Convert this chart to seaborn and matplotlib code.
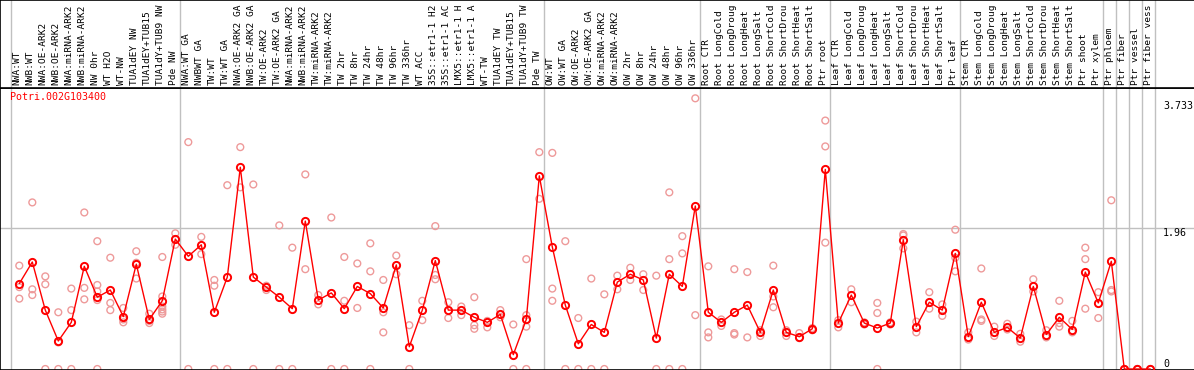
import matplotlib
matplotlib.use('Agg')
import matplotlib.pyplot as plt
import seaborn as sns
import pandas as pd

gene = "Potri.002G103400"

labels = [
    "NWA:WT", "NWB:WT", "NWA:OE-ARK2", "NWB:OE-ARK2", "NWA:miRNA-ARK2", "NWB:miRNA-ARK2",
    "NW 0hr", "WT H2O", "WT-NW", "TUA1dEY NW", "TUA1dEY+TUB15", "TUA1dY+TUB9 NW", "Pde NW",
    "NWA:WT GA", "NWBWT GA", "TW:WT", "TW:WT GA", "NWA:OE-ARK2 GA", "NWB:OE-ARK2 GA",
    "TW:OE-ARK2", "TW:OE-ARK2 GA", "NWA:miRNA-ARK2", "NWB:miRNA-ARK2", "TW:miRNA-ARK2",
    "TW:miRNA-ARK2", "TW 2hr", "TW 8hr", "TW 24hr", "TW 48hr", "TW 96hr", "TW 336hr",
    "WT ACC", "35S::etr1-1 H2", "35S::etr1-1 AC", "LMX5::etr1-1 H", "LMX5::etr1-1 A",
    "WT-TW", "TUA1dEY TW", "TUA1dEY+TUB15", "TUA1dY+TUB9 TW", "Pde TW",
    "OW:WT", "OW:WT GA", "OW:OE-ARK2", "OW:OE-ARK2 GA", "OW:miRNA-ARK2", "OW:miRNA-ARK2",
    "OW 2hr", "OW 8hr", "OW 24hr", "OW 48hr", "OW 96hr", "OW 336hr",
    "Root CTR", "Root LongCold", "Root LongDroug", "Root LongHeat", "Root LongSalt",
    "Root ShortCold", "Root ShortDrou", "Root ShortHeat", "Root ShortSalt", "Ptr root",
    "Leaf CTR", "Leaf LongCold", "Leaf LongDroug", "Leaf LongHeat", "Leaf LongSalt",
    "Leaf ShortCold", "Leaf ShortDrou", "Leaf ShortHeat", "Leaf ShortSalt", "Ptr leaf",
    "Stem CTR", "Stem LongCold", "Stem LongDroug", "Stem LongHeat", "Stem LongSalt",
    "Stem ShortCold", "Stem ShortDrou", "Stem ShortHeat", "Stem ShortSalt",
    "Ptr shoot", "Ptr xylem", "Ptr phloem", "Ptr fiber", "Ptr vessel", "Ptr fiber vess",
]

# mean expression per sample
means = [
    1.19, 1.49, 0.82, 0.39, 0.65, 1.43, 1.00, 1.10, 0.73, 1.46, 0.69, 0.95, 1.81,
    1.57, 1.73, 0.79, 1.28, 2.81, 1.28, 1.14, 1.00, 0.84, 2.06, 0.96, 1.06, 0.84,
    1.15, 1.05, 0.85, 1.45, 0.31, 0.82, 1.51, 0.82, 0.82, 0.72, 0.65, 0.76, 0.20,
    0.69, 2.69, 1.70, 0.89, 0.35, 0.62, 0.51, 1.21, 1.32, 1.24, 0.43, 1.32, 1.15,
    2.27, 0.79, 0.65, 0.79, 0.89, 0.51, 1.10, 0.51, 0.45, 0.56, 2.78, 0.64, 1.03,
    0.64, 0.57, 0.64, 1.80, 0.59, 0.93, 0.82, 1.61, 0.45, 0.93, 0.51, 0.58, 0.43,
    1.15, 0.48, 0.72, 0.55, 1.35, 0.92, 1.50, 0.0, 0.0, 0.0,
]

# individual replicates per sample
reps = [
    [1.44, 1.14, 0.98], [2.32, 1.11, 1.03], [1.29, 1.18, 0], [0.79, 0.37, 0],
    [1.12, 0.82, 0], [2.18, 1.13, 0.97], [1.78, 1.17, 1.08, 0.96, 0], [1.55, 0.92, 0.82],
    [0.85, 0.69, 0.65], [1.64, 1.26, 1.48], [0.77, 0.67, 0.64],
    [1.56, 1.01, 0.87, 0.83, 0.80, 0.77], [1.89, 1.73, 1.81],
    [3.16, 0], [1.84, 1.60], [1.24, 1.16, 0], [2.56, 0], [3.09, 2.53], [2.57, 0],
    [1.16, 1.10], [2.00, 0], [1.69, 0], [2.71, 1.39], [1.03, 0.90], [2.11, 0],
    [1.56, 0.95, 0], [1.47, 0.85], [1.75, 1.36, 0], [1.24, 0.79, 0.51], [1.58, 1.32],
    [0.61, 0], [0.95, 0.68], [1.99, 1.31, 1.25], [0.93, 0.71], [0.87, 0.75],
    [1.00, 0.61, 0.56], [0.67, 0.58], [0.82, 0.72], [0.62, 0],
    [1.53, 0.75, 0.68, 0.59, 0], [3.02, 2.37],
    [3.01, 1.12, 0.95], [1.78, 0], [0.71, 0], [1.26, 0], [1.04, 0], [1.30, 1.11],
    [1.41, 1.24], [1.32, 1.10], [1.30, 0], [2.46, 1.53, 0], [1.85, 1.61, 0], [3.77, 0.75],
    [1.43, 0.51, 0.44], [0.69, 0.60], [1.39, 0.50, 0.48], [1.35, 0.44], [0.54, 0.46],
    [1.44, 1.01, 0.86], [0.54, 0.46], [0.50, 0.43], [0.57, 0.54], [3.46, 3.10, 1.76],
    [0.68, 0.58], [1.11, 0.93], [0.65, 0.62], [0.92, 0.78, 0], [0.65, 0.62],
    [1.88, 1.86, 1.68], [0.66, 0.51], [1.07, 0.84], [0.90, 0.74], [1.94, 1.55, 1.36],
    [0.51, 0.41], [1.40, 0.69, 0.67], [0.59, 0.46], [0.63, 0.55], [0.49, 0.38],
    [1.25, 1.08], [0.54, 0.44], [0.95, 0.64, 0.59], [0.67, 0.51], [1.69, 1.53, 0.84],
    [1.07, 0.71], [2.35, 1.10, 1.08], [0, 0], [0, 0], [0, 0],
]

# last sample of each block (gray separators)
group_ends = [0, 13, 41, 53, 63, 73, 84, 85, 86, 87, 88]
ytick_vals = [3.733, 1.96, 0]
ytick_text = ["3.733", "1.96", "0"]

sns.set_style("white")
plt.rcParams['font.family'] = ['DejaVu Sans Mono']

pos = list(range(1, len(means) + 1))
df_mean = pd.DataFrame({"pos": pos, "valor": means})
rx, ry = [], []
for p, lista in zip(pos, reps):
    for v in lista:
        rx.append(p)
        ry.append(v)
df_reps = pd.DataFrame({"pos": rx, "valor": ry})

fig = plt.figure(figsize=(11.94, 3.70), dpi=100)
W, H = 1194, 370
top_h = 88
ax = fig.add_axes([0, 0, 1, (H - top_h) / H])
axl = fig.add_axes([0, (H - top_h) / H, 1, top_h / H])

# pixel = 6.3 + 13 * pos
xlim = (-6.3 / 13, (W - 6.3) / 13)
ax.set_xlim(*xlim)
axl.set_xlim(*xlim)
ax.set_ylim((369 - 370) / 71.8, (369 - top_h) / 71.8)
axl.set_ylim(0, 1)

grid_c = '#c0c0c0'
for g in group_ends:
    ax.axvline(g + 0.385, color=grid_c, lw=1, zorder=1)
    axl.axvline(g + 0.385, color=grid_c, lw=1, zorder=1)
ax.axhline(1.96, color=grid_c, lw=1, zorder=1)

rep_c = '#ee9a9a'
sns.scatterplot(data=df_reps, x="pos", y="valor", ax=ax, marker='o', s=24,
                facecolors='none', edgecolor=rep_c, linewidth=1.0, zorder=2, legend=False)
sns.lineplot(data=df_mean, x="pos", y="valor", ax=ax, color='#ff0000', lw=1,
             marker='o', markersize=5.2, markerfacecolor='none',
             markeredgecolor='#ff0000', markeredgewidth=1.4, zorder=4)

ax.text(10 / W, (H - 92) / (H - top_h), gene, transform=ax.transAxes,
        color='#ff0000', fontsize=7.2, ha='left', va='top')

tr = ax.get_yaxis_transform()
for v, t in zip(ytick_vals, ytick_text):
    ax.text(1163 / W, v, t, transform=tr, fontsize=7.2, ha='left',
            va='bottom' if v == 0 else 'top', color='black')

for p, nome in zip(pos, labels):
    axl.text(p - 0.15, 3 / top_h, nome, rotation=90, ha='center', va='bottom',
             fontsize=6.8, color='black')

for a in (ax, axl):
    a.set_xticks([])
    a.set_yticks([])
    a.set_xlabel("")
    a.set_ylabel("")
    for s in a.spines.values():
        s.set_color('black')
        s.set_linewidth(1.2)
    a.spines['right'].set_visible(False)

plt.savefig("out.png", dpi=100)
plt.close()
